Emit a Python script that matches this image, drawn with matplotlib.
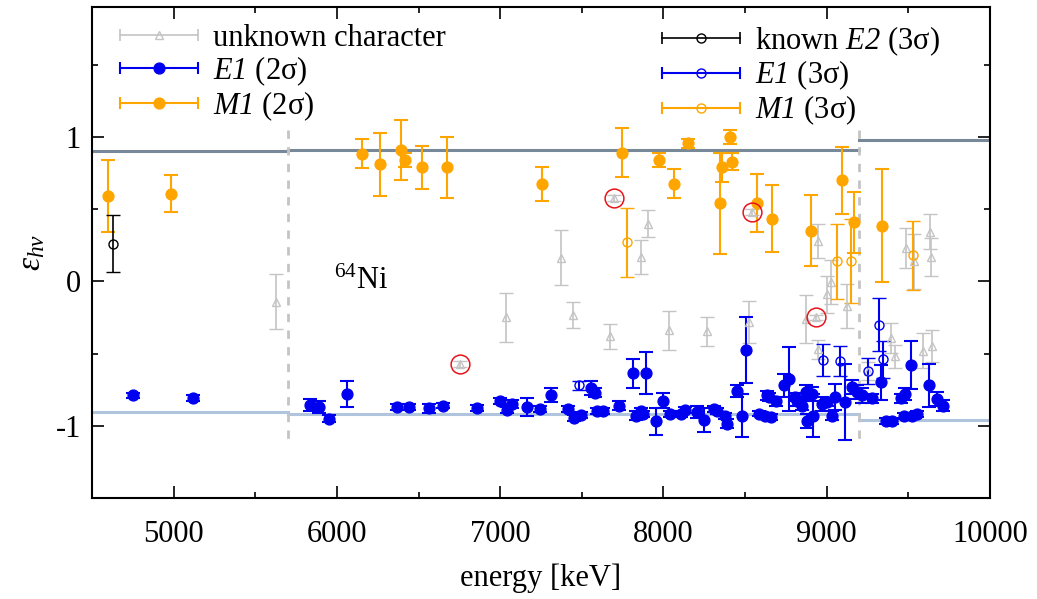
import matplotlib
matplotlib.use("Agg")
from matplotlib import pyplot as plt
from matplotlib.lines import Line2D
from matplotlib.legend_handler import HandlerBase

plt.rcParams['font.family'] = ['Liberation Serif', 'DejaVu Serif']
plt.rcParams['mathtext.fontset'] = 'custom'
plt.rcParams['mathtext.rm'] = 'Liberation Serif'
plt.rcParams['mathtext.it'] = 'Liberation Serif:italic'
# italic digits too (mathtext puts digits of \mathit in roman)
plt.rcParams['mathtext.bf'] = 'Liberation Serif:italic'
plt.rcParams['axes.unicode_minus'] = False

# unknown character (gray triangles)
unk_x = [5625, 7038, 7375, 7448, 7674, 7864, 7907, 8035, 8268, 8524, 8875, 8949, 8947,
         9001, 9026, 9124, 9250, 9393, 9418, 9485, 9534, 9589, 9630, 9637, 9643]
unk_y = [-0.14, -0.25, 0.165, -0.23, -0.38, 0.17, 0.40, -0.34, -0.345, -0.28, -0.26, -0.47, 0.28,
         -0.09, -0.005, -0.17, -0.62, -0.39, -0.52, 0.23, 0.14, -0.48, 0.345, 0.17, -0.45]
unk_err = [0.19, 0.17, 0.19, 0.09, 0.085, 0.12, 0.095, 0.135, 0.10, 0.145, 0.165, 0.065, 0.12,
           0.13, 0.15, 0.15, 0.06, 0.105, 0.08, 0.14, 0.19, 0.12, 0.12, 0.13, 0.11]

# unknown character, marked with red circles
circ_x = [6751, 7699, 8543, 8937]
circ_y = [-0.57, 0.58, 0.48, -0.25]
circ_err = [0.02, 0.02, 0.02, 0.02]

# known E2 (3 sigma)
e2_x = [4628]
e2_y = [0.262]
e2_err = [0.2]

# M1 (2 sigma)
m1_x = [4598, 4983, 6151, 6261, 6390, 6420, 6524, 6677, 7258, 7748, 7974, 8066, 8151,
        8347, 8359, 8408, 8420, 8573, 8665, 8904, 9093, 9167, 9338]
m1_y = [0.593, 0.607, 0.883, 0.81, 0.91, 0.84, 0.79, 0.79, 0.675, 0.89, 0.84, 0.675, 0.955,
        0.54, 0.79, 0.998, 0.83, 0.545, 0.435, 0.35, 0.70, 0.41, 0.385]
m1_err = [0.25, 0.13, 0.10, 0.22, 0.21, 0.05, 0.15, 0.21, 0.12, 0.17, 0.05, 0.10, 0.03,
          0.35, 0.10, 0.05, 0.06, 0.20, 0.23, 0.245, 0.23, 0.21, 0.39]

# M1 (3 sigma)
m1o_x = [7778, 9063, 9148, 9528]
m1o_y = [0.27, 0.14, 0.14, 0.18]
m1o_err = [0.24, 0.26, 0.29, 0.24]

# E1 (3 sigma)
e1o_x = [7485, 8977, 9081, 9252, 9319, 9346]
e1o_y = [-0.72, -0.545, -0.55, -0.62, -0.30, -0.54]
e1o_err = [0.03, 0.11, 0.105, 0.09, 0.185, 0.13]

# E1 (2 sigma)
e1_x = [4751, 5118, 5833, 5888, 5950, 6060, 6365, 6439, 6567, 6647, 6861, 7001, 7044,
        7075, 7167, 7246, 7313, 7417, 7454, 7497, 7558, 7583, 7595, 7632, 7729, 7815,
        7833, 7864, 7876, 7895, 7955, 7998, 8041, 8108, 8133, 8206, 8249, 8310, 8329,
        8378, 8390, 8451, 8482, 8506, 8586, 8622, 8634, 8647, 8659, 8690, 8738, 8770,
        8806, 8818, 8849, 8873, 8880, 8910, 8915, 8972, 9000, 9033, 9051, 9112, 9153,
        9185, 9216, 9277, 9330, 9361, 9400, 9453, 9471, 9477, 9515, 9523, 9553, 9627,
        9676, 9712]
e1_y = [-0.79, -0.81, -0.855, -0.87, -0.95, -0.78, -0.87, -0.87, -0.88, -0.86, -0.875, -0.83, -0.89,
        -0.85, -0.87, -0.885, -0.785, -0.885, -0.945, -0.925, -0.74, -0.77, -0.90, -0.90, -0.86, -0.635,
        -0.93, -0.895, -0.92, -0.635, -0.97, -0.825, -0.92, -0.92, -0.89, -0.905, -0.96, -0.885, -0.895,
        -0.93, -0.985, -0.76, -0.93, -0.475, -0.915, -0.93, -0.79, -0.80, -0.94, -0.83, -0.72, -0.675,
        -0.80, -0.83, -0.86, -0.765, -0.965, -0.78, -0.93, -0.85, -0.835, -0.93, -0.80, -0.835, -0.73,
        -0.765, -0.79, -0.81, -0.70, -0.965, -0.965, -0.81, -0.93, -0.78, -0.58, -0.93, -0.92, -0.72,
        -0.815, -0.86]
e1_err = [0.02, 0.02, 0.04, 0.04, 0.025, 0.09, 0.02, 0.02, 0.03, 0.02, 0.02, 0.02, 0.02,
          0.03, 0.06, 0.02, 0.05, 0.02, 0.02, 0.02, 0.05, 0.03, 0.02, 0.02, 0.03, 0.10,
          0.03, 0.02, 0.02, 0.145, 0.095, 0.05, 0.02, 0.02, 0.02, 0.04, 0.085, 0.02, 0.02,
          0.02, 0.03, 0.04, 0.15, 0.23, 0.02, 0.02, 0.03, 0.03, 0.02, 0.03, 0.08, 0.22,
          0.03, 0.03, 0.03, 0.05, 0.05, 0.05, 0.15, 0.05, 0.03, 0.03, 0.09, 0.26, 0.05,
          0.05, 0.05, 0.03, 0.12, 0.02, 0.02, 0.03, 0.02, 0.04, 0.165, 0.02, 0.02, 0.15,
          0.05, 0.04]

# reference levels per energy region
region_edges = [4500, 5700, 9200, 10000]
upper_level = [0.903, 0.91, 0.98]
lower_level = [-0.903, -0.917, -0.96]

orange = '#ffa500'
blue = '#0000f0'
gray = '#c4c4c4'


class HandlerErr(HandlerBase):
    # gnuplot style key: horizontal line, caps at both ends, marker in the middle
    def create_artists(self, legend, orig_handle, xdescent, ydescent, width, height, fontsize, trans):
        y = height / 2 - ydescent
        x0, x1 = -xdescent, width - xdescent
        c = orig_handle.get_color()
        lw = orig_handle.get_linewidth()
        line = Line2D([x0, x1], [y, y], color=c, lw=lw)
        caps = Line2D([x0, x1], [y, y], ls='none', marker='|', ms=9, mew=lw, color=c)
        mark = Line2D([(x0 + x1) / 2], [y], ls='none', marker=orig_handle.get_marker(),
                      ms=orig_handle.get_markersize(), mfc=orig_handle.get_markerfacecolor(),
                      mec=c, mew=orig_handle.get_markeredgewidth())
        for a in (line, caps, mark):
            a.set_transform(trans)
        return [line, caps, mark]


fig = plt.figure(figsize=(10.37, 5.99), dpi=100)
ax = fig.add_axes([92 / 1037, 1 - 498 / 599, 898 / 1037, 491 / 599])

for i in range(3):
    ax.plot(region_edges[i:i + 2], [upper_level[i]] * 2, color='#778899', lw=2.2, zorder=1)
    ax.plot(region_edges[i:i + 2], [lower_level[i]] * 2, color='#b0c4de', lw=2.2, zorder=1)
for xe in region_edges[1:3]:
    ax.plot([xe, xe], [1.05, -1.1], color=gray, lw=2, ls=(0, (3, 3)), zorder=1)

ekw = dict(ls='none', capsize=4.8, zorder=3)
ax.errorbar(unk_x, unk_y, yerr=unk_err, marker='^', ms=6, mfc='none', mec=gray, mew=1,
            color=gray, elinewidth=1.2, capthick=1.2, **ekw)
ax.errorbar(circ_x, circ_y, yerr=circ_err, marker='^', ms=6, mfc='none', mec=gray, mew=1,
            color=gray, elinewidth=1.2, capthick=1.2, **ekw)
ax.plot(circ_x, circ_y, ls='none', marker='o', ms=13.5, mfc='none', mec='#e8141c', mew=1.1, zorder=6)
ax.errorbar(e1_x, e1_y, yerr=e1_err, marker='o', ms=7.8, color=blue, elinewidth=1.5, capthick=1.5, **ekw)
ax.errorbar(e1o_x, e1o_y, yerr=e1o_err, marker='o', ms=6.5, mfc='none', mew=1, color=blue,
            elinewidth=1.5, capthick=1.5, **ekw)
ax.errorbar(m1_x, m1_y, yerr=m1_err, marker='o', ms=7.8, color=orange, elinewidth=1.5, capthick=1.5, **ekw)
ax.errorbar(m1o_x, m1o_y, yerr=m1o_err, marker='o', ms=6.5, mfc='none', mew=1, color=orange,
            elinewidth=1.5, capthick=1.5, **ekw)
ax.errorbar(e2_x, e2_y, yerr=e2_err, marker='o', ms=6.5, mfc='none', mew=1, color='black',
            elinewidth=1.2, capthick=1.2, **ekw)

ax.text(5985, 0, r'$^{64}$Ni', fontsize=22, va='center', ha='left')

ax.set_xlim(4500, 10000)
ax.set_ylim(-1.5, 1.9)
ax.set_xticks([5000, 6000, 7000, 8000, 9000, 10000])
ax.set_xticks(range(4500, 10001, 500), minor=True)
ax.set_yticks([-1, 0, 1])
ax.set_yticks([-1.5, -0.5, 0.5, 1.5], minor=True)
ax.tick_params(which='both', direction='in', top=True, right=True, labelsize=22, width=1.2)
ax.tick_params(which='major', length=8.5)
ax.tick_params(axis='x', which='major', pad=16)
ax.tick_params(axis='y', which='major', pad=8)
ax.tick_params(which='minor', length=4)
for s in ax.spines.values():
    s.set_linewidth(1.5)
ax.set_xlabel('energy [keV]', fontsize=22, labelpad=10)
ax.set_ylabel(r'$\varepsilon_{h\nu}$', fontsize=24, labelpad=6)

h_unk = Line2D([], [], color=gray, marker='^', ms=6, mfc='none', mew=1, lw=1.2)
h_e1 = Line2D([], [], color=blue, marker='o', ms=7.8, mfc=blue, mew=1, lw=1.5)
h_m1 = Line2D([], [], color=orange, marker='o', ms=7.8, mfc=orange, mew=1, lw=1.5)
h_e2 = Line2D([], [], color='black', marker='o', ms=6.5, mfc='none', mew=1, lw=1.2)
h_e1o = Line2D([], [], color=blue, marker='o', ms=6.5, mfc='none', mew=1, lw=1.5)
h_m1o = Line2D([], [], color=orange, marker='o', ms=6.5, mfc='none', mew=1, lw=1.5)

lkw = dict(frameon=False, fontsize=22, handlelength=2.55, handletextpad=0.5, labelspacing=0.04,
           borderpad=0, borderaxespad=0, loc='upper left', handler_map={Line2D: HandlerErr()})
leg1 = ax.legend([h_unk, h_e1, h_m1],
                 ['unknown character', r'$\mathbf{E1}$ (2σ)', r'$\mathbf{M1}$ (2σ)'],
                 bbox_to_anchor=(28 / 898, 1 - 17 / 491), **lkw)
ax.add_artist(leg1)
ax.legend([h_e2, h_e1o, h_m1o],
          [r'known $\mathbf{E2}$ (3σ)', r'$\mathbf{E1}$ (3σ)', r'$\mathbf{M1}$ (3σ)'],
          bbox_to_anchor=(570 / 898, 1 - 17 / 491), **lkw)

fig.savefig('out.png', dpi=100)
